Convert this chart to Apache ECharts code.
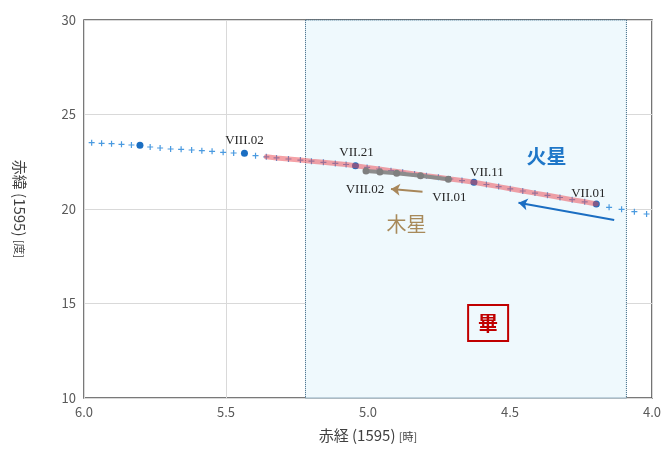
<!DOCTYPE html>
<html>
<head>
<meta charset="utf-8">
<script src="https://cdn.jsdelivr.net/npm/echarts@6/dist/echarts.min.js"></script>
<style>
  html, body { margin: 0; padding: 0; background: #fff; }
  #chart { width: 664px; height: 459px; }
</style>
</head>
<body>
<div id="chart"></div>
<script>
// Mars daily positions (RA in hours, Dec in degrees), east to west
const marsRA = [5.973, 5.938, 5.903, 5.868, 5.833, 5.803, 5.767, 5.732, 5.695, 5.658,
  5.621, 5.585, 5.549, 5.510, 5.473, 5.435, 5.396, 5.358, 5.322, 5.280,
  5.238, 5.199, 5.157, 5.115, 5.077, 5.044, 5.003, 4.961, 4.919, 4.878,
  4.836, 4.794, 4.752, 4.710, 4.669, 4.627, 4.583, 4.540, 4.499, 4.455,
  4.412, 4.368, 4.324, 4.281, 4.237, 4.196, 4.151, 4.107, 4.062, 4.019];
const marsDec = [23.508, 23.476, 23.455, 23.423, 23.386, 23.370, 23.280, 23.228, 23.175, 23.159,
  23.122, 23.085, 23.053, 23.000, 22.963, 22.947, 22.820, 22.762, 22.704, 22.646,
  22.587, 22.529, 22.471, 22.413, 22.354, 22.291, 22.201, 22.116, 22.026, 21.942,
  21.852, 21.762, 21.677, 21.587, 21.503, 21.413, 21.296, 21.185, 21.069, 20.952,
  20.841, 20.725, 20.608, 20.492, 20.381, 20.265, 20.090, 19.984, 19.857, 19.735];
// marked dates on the Mars track (index into the arrays above)
const marsKeyIdx = [5, 15, 25, 35, 45];
const marsKeyText = ['', 'VIII.02', 'VII.21', 'VII.11', 'VII.01'];
// stretch of the track highlighted in red (VII.01 onward)
const marsTrailFrom = 17, marsTrailTo = 45;

// Jupiter positions
const jupRA = [4.717, 4.815, 4.899, 4.958, 5.007];
const jupDec = [21.571, 21.762, 21.889, 21.958, 22.011];
const jupText = ['VII.01', '', '', '', 'VIII.02'];

// axis ticks
const xTicks = [6.0, 5.5, 5.0, 4.5, 4.0];
const yTicks = [10, 15, 20, 25, 30];

// Hyades (畢宿) band in right ascension
const bandRA = [5.22, 4.09];

const serif = '"Liberation Serif", "DejaVu Serif", serif';
const sans = '"Noto Sans CJK JP", "Noto Sans", sans-serif';
const dateLabel = { color: '#262626', fontSize: 13, fontFamily: serif };

const plusPath = 'path://M4,0H6V4H10V6H6V10H4V6H0V4H4Z';

const marsLabelOffset = { 15: [0, -13], 25: [1, -13], 35: [13, -10], 45: [-8, -10] };
const marsData = marsRA.map((x, i) => {
  const k = marsKeyIdx.indexOf(i);
  if (k < 0) return { value: [x, marsDec[i]] };
  const item = { value: [x, marsDec[i]], symbol: 'circle', symbolSize: 7, itemStyle: { color: '#1b6ec2', opacity: 1 } };
  if (marsKeyText[k]) {
    item.label = Object.assign({ show: true, position: 'inside', formatter: marsKeyText[k], offset: marsLabelOffset[i] }, dateLabel);
  }
  return item;
});

const trailData = [];
for (let i = marsTrailFrom; i <= marsTrailTo; i++) trailData.push([marsRA[i], marsDec[i]]);

const jupLabelOffset = [[1, 18], null, null, null, [-1, 19]];
const jupData = jupRA.map((x, i) => ({
  value: [x, jupDec[i]],
  label: jupText[i]
    ? Object.assign({ show: true, position: 'inside', formatter: jupText[i], offset: jupLabelOffset[i] }, dateLabel)
    : { show: false }
}));

const chart = echarts.init(document.getElementById('chart'), null, { renderer: 'canvas' });
chart.setOption({
  animation: false,
  backgroundColor: '#ffffff',
  grid: { left: 84, right: 8, top: 20, bottom: 61, show: true, borderColor: '#4d4d4d', borderWidth: 1.5, backgroundColor: 'transparent' },
  xAxis: {
    type: 'value', min: xTicks[xTicks.length - 1], max: xTicks[0], interval: 0.5, inverse: true,
    axisLine: { show: false }, axisTick: { show: false },
    splitLine: { show: true, lineStyle: { color: '#d9d9d9', width: 1 } },
    axisLabel: { color: '#595959', fontSize: 13, fontFamily: sans, margin: 8, formatter: v => v.toFixed(1) },
    name: '{m|赤経 (1595) }{s|[時]}', nameLocation: 'middle', nameGap: 30,
    nameTextStyle: { rich: {
      m: { fontSize: 15, color: '#404040', fontFamily: sans },
      s: { fontSize: 11, color: '#404040', fontFamily: sans, padding: [3, 0, 0, 0] } } }
  },
  yAxis: {
    type: 'value', min: yTicks[0], max: yTicks[yTicks.length - 1], interval: 5,
    axisLine: { show: false }, axisTick: { show: false },
    splitLine: { show: true, lineStyle: { color: '#d9d9d9', width: 1 } },
    axisLabel: { color: '#595959', fontSize: 13, fontFamily: sans, margin: 8 },
    name: '{m|赤緯 (1595) }{s|[度]}', nameLocation: 'middle', nameGap: 57, nameRotate: -90,
    nameTextStyle: { rich: {
      m: { fontSize: 15, color: '#404040', fontFamily: sans },
      s: { fontSize: 11, color: '#404040', fontFamily: sans } } }
  },
  series: [
    {
      name: 'band', type: 'line', data: [], silent: true,
      markArea: {
        silent: true,
        itemStyle: { color: '#eff9fd', borderColor: '#2f5f7f', borderWidth: 1, borderType: 'dotted' },
        data: [[{ xAxis: bandRA[0], yAxis: yTicks[0] }, { xAxis: bandRA[1], yAxis: yTicks[yTicks.length - 1] }]]
      }
    },
    {
      name: '火星', type: 'scatter', data: marsData, symbol: plusPath, symbolSize: 6,
      itemStyle: { color: '#4a9ae0', opacity: 1 }, z: 3,
      label: { show: false },
      emphasis: { disabled: true }
    },
    {
      name: 'trail', type: 'line', data: trailData, showSymbol: false, smooth: false, z: 4,
      lineStyle: { color: 'rgba(236,70,80,0.5)', width: 5, cap: 'round' }
    },
    {
      name: '木星', type: 'line', data: jupData, symbol: 'circle', symbolSize: 7, z: 5,
      lineStyle: { color: '#8c8c8c', width: 4 }, itemStyle: { color: '#7f7f7f' },
      emphasis: { disabled: true }
    },
    {
      name: 'arrows', type: 'line', data: [], silent: true,
      markLine: {
        silent: true, symbol: ['none', 'arrow'], symbolSize: 9, label: { show: false },
        data: [
          [{ coord: [4.133, 19.418], lineStyle: { color: '#1b6ec2', width: 2, type: 'solid' } },
           { coord: [4.470, 20.333] }],
          [{ coord: [4.808, 20.915], lineStyle: { color: '#a8875a', width: 2, type: 'solid' } },
           { coord: [4.919, 21.058] }]
        ]
      }
    },
    {
      name: 'notes', type: 'scatter', symbolSize: 0, silent: true, z: 6,
      itemStyle: { opacity: 1 },
      label: { show: true, position: 'inside' },
      data: [
        { value: [4.371, 22.80], label: { formatter: '火星', color: '#1f77c8', fontSize: 20, fontWeight: 'bold', fontFamily: sans } },
        { value: [4.864, 19.206], label: { formatter: '木星', color: '#a88a5a', fontSize: 20, fontFamily: sans } },
        { value: [4.577, 13.97], label: { formatter: '畢', color: '#c00000', fontSize: 20, fontWeight: 'bold', fontFamily: sans,
            borderColor: '#c00000', borderWidth: 2, padding: [8, 10, 8, 10] } }
      ]
    }
  ]
});
</script>
</body>
</html>
